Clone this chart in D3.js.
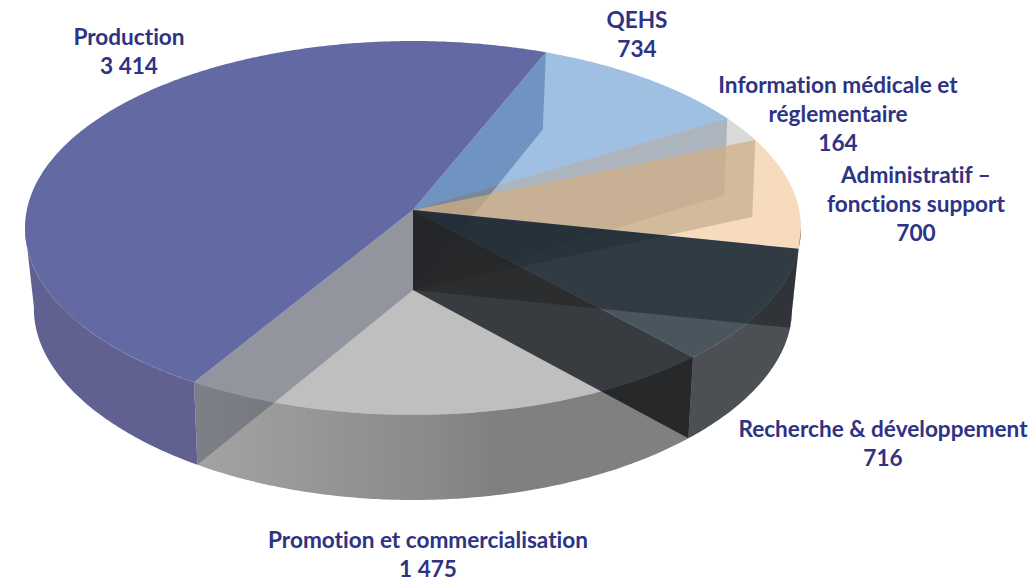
<!DOCTYPE html>
<html>
<head>
<meta charset="utf-8">
<script src="https://cdn.jsdelivr.net/npm/d3@7"></script>
<style>
  html, body { margin: 0; background: #fff; }
  text { font-family: Lato, "Open Sans", sans-serif; font-weight: 700; font-size: 22.6px; fill: #2e3383; text-anchor: middle; dominant-baseline: middle; font-variant-ligatures: none; }
</style>
</head>
<body>
<div class="chart-wrapper"></div>
<script>
// values, clockwise from the QEHS slice
var categories = ["QEHS", "Information médicale et réglementaire", "Administratif – fonctions support", "Recherche & développement", "Promotion et commercialisation", "Production"];
var values = [734, 164, 700, 716, 1475, 3414];
var labelLines = [["QEHS"], ["Information médicale et", "réglementaire"], ["Administratif –", "fonctions support"], ["Recherche & développement"], ["Promotion et commercialisation"], ["Production"]];

// colours of each slice
var topColors = ["rgba(15,97,182,.4)", "rgba(0,0,0,.15)", "rgba(225,138,32,.3)", "rgba(5,19,32,.72)", "rgba(0,0,0,.25)", "rgb(99,106,163)"];
var sideColors = ["none", "none", "rgba(70,55,40,.85)", "rgba(0,4,11,.7)", "url(#promoSide)", "rgb(96,97,144)"];
// inner wall standing on the start edge of each slice
var wallColors = ["rgba(32,46,98,.35)", "rgba(47,87,123,.25)", "rgba(180,184,184,.67)", "rgba(40,38,36,.43)", "rgba(30,35,41,.8)", "rgb(196,199,211)"];
var wallOrder = [0, 1, 2, 5, 4, 3];

var width = 1034, height = 581;

var svg = d3.select(".chart-wrapper").append("svg")
  .attr("width", width)
  .attr("height", height)
  .style("display", "block");

// gradient on the outer side of the Promotion slice
var grad = svg.append("defs").append("linearGradient")
  .attr("id", "promoSide")
  .attr("gradientUnits", "userSpaceOnUse")
  .attr("x1", 197).attr("x2", 687).attr("y1", 0).attr("y2", 0);
[[0, .36], [.48, .46], [.62, .5], [1, .5]].forEach(function(s) {
  grad.append("stop").attr("offset", s[0]).attr("stop-color", "#000").attr("stop-opacity", s[1]);
});

var rad = Math.PI / 180;
var pie = d3.pie().sort(null).startAngle(22 * rad).endAngle(382 * rad);
var slices = pie(values);

// perspective disc, near edge is bigger
var cx = 413, topY = 210, botY = 290;
function topPoint(a) {
  var u = Math.sin(a), v = -Math.cos(a), w = 1 - 0.096 * v;
  return [cx + 386.2 * u / w, topY + 185.2 * v / w];
}
function bottomPoint(a) {
  var u = Math.sin(a), v = -Math.cos(a);
  if (v < 0) {
    var p = topPoint(a);
    return [p[0] - 3, p[1] + 77];
  }
  return [cx + 377 * u / (1 - 0.105 * v), botY + 178.5 * v / (1 - 0.15 * v)];
}
function arcPoints(fn, a0, a1) {
  var n = Math.ceil(Math.abs(a1 - a0) / (0.5 * rad)) + 1;
  return d3.range(n).map(function(i) {
    return fn(a0 + (a1 - a0) * i / (n - 1));
  });
}
var line = d3.line();

// inner walls first, they show through the slices
svg.append("g").selectAll("path")
  .data(wallOrder)
  .enter().append("path")
  .attr("fill", function(i) { return wallColors[i]; })
  .attr("d", function(i) {
    var a = slices[i].startAngle;
    return line([[cx, topY], topPoint(a), bottomPoint(a), [cx, botY]]) + "Z";
  });

// outer sides, only the part facing us
var sideFrom = 95.5 * rad, sideTo = 264.5 * rad;
svg.append("g").selectAll("path")
  .data(slices)
  .enter().append("path")
  .attr("fill", function(d) { return sideColors[d.index]; })
  .attr("d", function(d) {
    var a0 = Math.max(d.startAngle, sideFrom), a1 = Math.min(d.endAngle, sideTo);
    if (a1 <= a0) return null;
    return line(arcPoints(topPoint, a0, a1).concat(arcPoints(bottomPoint, a1, a0))) + "Z";
  });

// top faces
svg.append("g").selectAll("path")
  .data(slices)
  .enter().append("path")
  .attr("fill", function(d) { return topColors[d.index]; })
  .attr("d", function(d) {
    return line([[cx, topY]].concat(arcPoints(topPoint, d.startAngle, d.endAngle))) + "Z";
  });

// labels, french thousands with a space
var format = d3.formatLocale({ decimal: ",", thousands: " ", grouping: [3], currency: ["", ""] }).format(",d");
var labelX = [637, 838, 916, 883, 428, 129];
var labelY = [22, 87, 177, 431, 542, 39];
var lineStep = 29;

var label = svg.append("g").selectAll("text")
  .data(slices)
  .enter().append("text")
  .attr("aria-label", function(d) { return categories[d.index]; });

label.selectAll("tspan")
  .data(function(d) { return labelLines[d.index].concat(format(d.value)); })
  .enter().append("tspan")
  .attr("x", function() { return labelX[d3.select(this.parentNode).datum().index]; })
  .attr("y", function(t, i) { return labelY[d3.select(this.parentNode).datum().index] + i * lineStep; })
  .text(function(t) { return t; });
</script>
</body>
</html>
